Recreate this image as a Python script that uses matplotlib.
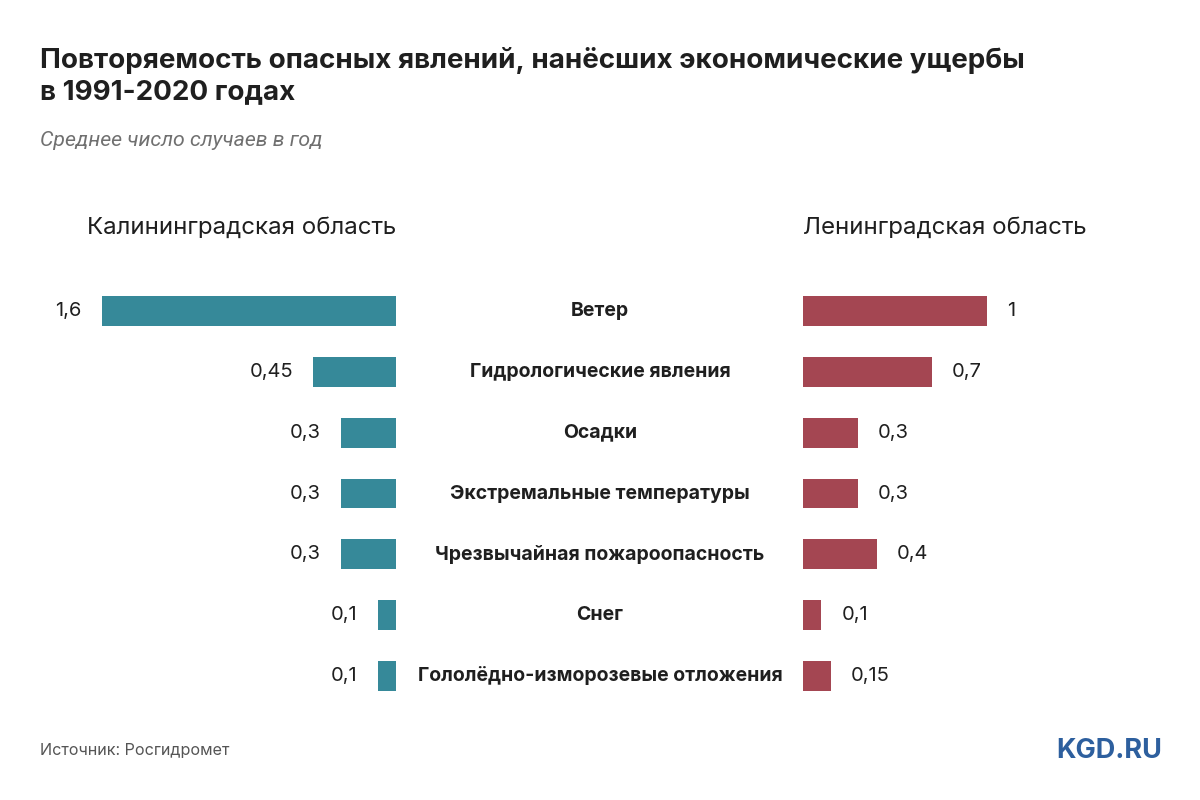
import matplotlib.pyplot as plt

# data
categories = ['Ветер', 'Гидрологические явления', 'Осадки', 'Экстремальные температуры',
              'Чрезвычайная пожароопасность', 'Снег', 'Гололёдно-изморозевые отложения']
kaliningrad = [1.6, 0.45, 0.3, 0.3, 0.3, 0.1, 0.1]
leningrad = [1.0, 0.7, 0.3, 0.3, 0.4, 0.1, 0.15]
kal_labels = ['1,6', '0,45', '0,3', '0,3', '0,3', '0,1', '0,1']
len_labels = ['1', '0,7', '0,3', '0,3', '0,4', '0,1', '0,15']

plt.rcParams['font.family'] = ['Inter', 'DejaVu Sans']
TXT = '#1f1f1f'
C_LEFT = '#368999'
C_RIGHT = '#a44652'

W, H = 1200, 800
fig = plt.figure(figsize=(12, 8), dpi=100)

unit = 184  # px per unit
xmax = 1.75
top, bottom = 280.6, 706.4
ypos = list(range(len(categories)))


def px_axes(x0, x1):
    return fig.add_axes([x0 / W, 1 - bottom / H, (x1 - x0) / W, (bottom - top) / H])


axl = px_axes(396 - xmax * unit, 396)
axr = px_axes(803, 803 + xmax * unit)

axl.barh(ypos, kaliningrad, height=0.49, color=C_LEFT)
axr.barh(ypos, leningrad, height=0.49, color=C_RIGHT)
axl.set_xlim(xmax, 0)
axr.set_xlim(0, xmax)
for ax in (axl, axr):
    ax.set_ylim(len(categories) - 0.5, -0.5)
    ax.axis('off')

for i, (v, s) in enumerate(zip(kaliningrad, kal_labels)):
    axl.annotate(s, (v, i), xytext=(-20, 0), textcoords='offset pixels',
                 ha='right', va='center', fontsize=14.5, color=TXT)
for i, (v, s) in enumerate(zip(leningrad, len_labels)):
    axr.annotate(s, (v, i), xytext=(20, 0), textcoords='offset pixels',
                 ha='left', va='center', fontsize=14.5, color=TXT)

# category names in the middle of the figure
for i, c in enumerate(categories):
    axr.annotate(c, (0, i), xycoords=('figure fraction', 'data'), xytext=(0.5, 0),
                 textcoords=('figure fraction', 'offset pixels'), ha='center', va='center',
                 fontsize=14, fontweight='bold', color=TXT, annotation_clip=False)

fig.text(396 / W, 1 - 228 / H, 'Калининградская область', ha='right', va='center',
         fontsize=17.3, color=TXT)
fig.text(803 / W, 1 - 228 / H, 'Ленинградская область', ha='left', va='center',
         fontsize=17.3, color=TXT)

fig.text(40 / W, 1 - 76 / H, 'Повторяемость опасных явлений, нанёсших экономические ущербы\nв 1991-2020 годах',
         ha='left', va='center', fontsize=20, fontweight='bold', color=TXT, linespacing=1.3)
fig.text(40 / W, 1 - 140 / H, 'Среднее число случаев в год', ha='left', va='center',
         fontsize=15.3, style='italic', color='#707070', family=['Roboto', 'DejaVu Sans'])
fig.text(40 / W, 1 - 750 / H, 'Источник: Росгидромет', ha='left', va='center',
         fontsize=11.6, color='#555555')
fig.text(1162 / W, 1 - 751 / H, 'KGD.RU', ha='right', va='center',
         fontsize=19.5, fontweight='bold', color='#2d5f9e')

fig.savefig('out.png', dpi=100, facecolor='white')
